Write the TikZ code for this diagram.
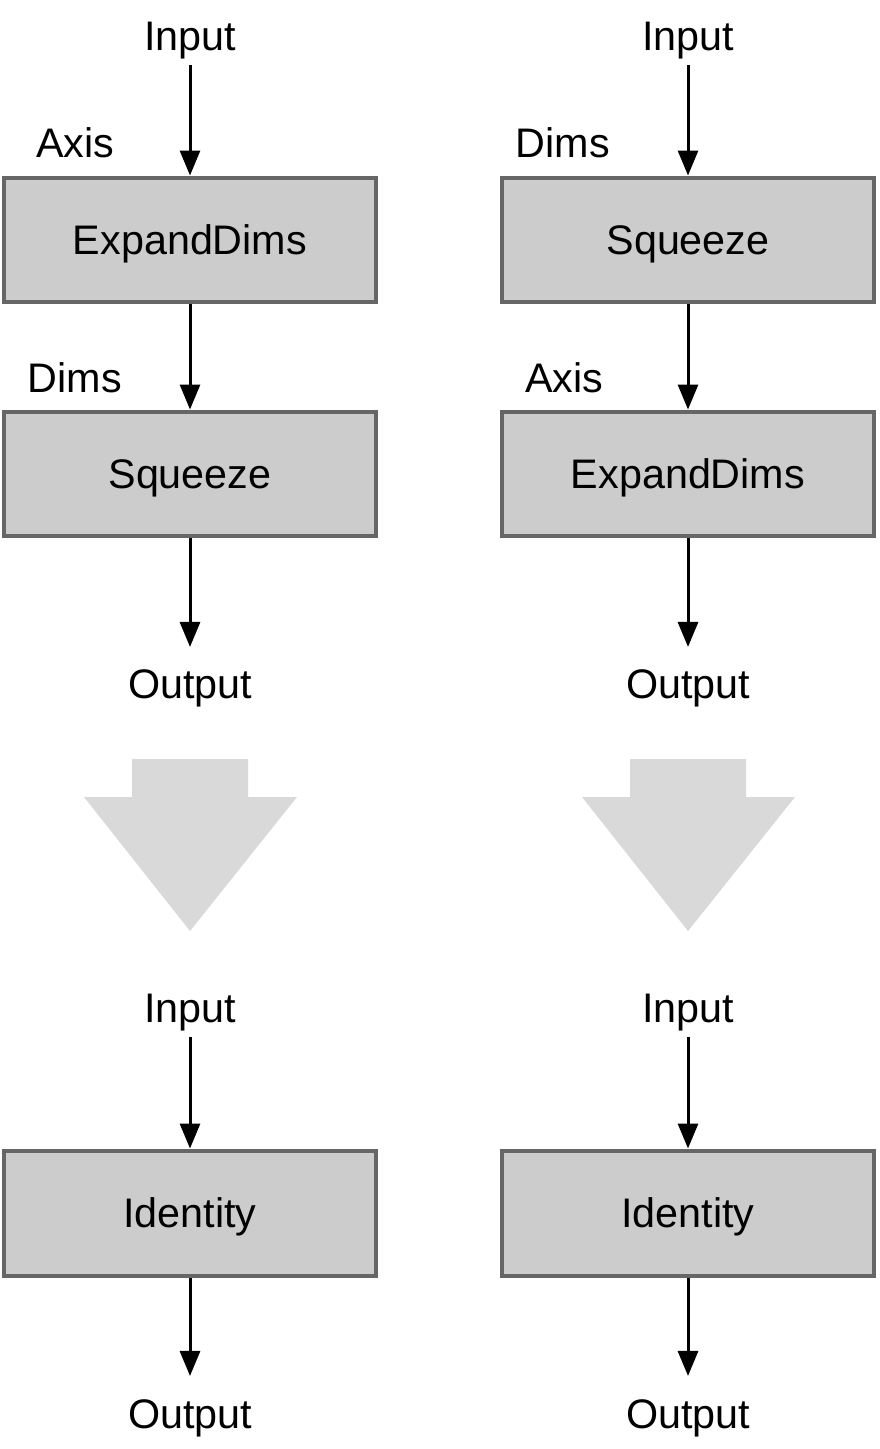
\documentclass[tikz,border=0pt]{standalone}
\usepackage{fontspec}
\setmainfont{Liberation Sans}
\usetikzlibrary{arrows.meta}
\definecolor{boxfill}{HTML}{CCCCCC}
\definecolor{boxline}{HTML}{666666}
\definecolor{bigarrow}{HTML}{D9D9D9}
\tikzset{opbox/.style={draw=boxline,line width=0.08cm,fill=boxfill,minimum width=7.44cm,minimum height=2.5cm,text height=17pt,text depth=0pt,font=\fontsize{23.5}{26}\selectfont},
         lbl/.style={font=\fontsize{23.5}{26}\selectfont,inner sep=0.1cm},
         flow/.style={line width=0.06cm,-{Triangle[width=0.4cm,length=0.5cm]}}}

\begin{document}
\begin{tikzpicture}[x=0.02cm,y=-0.02cm]
                  \useasboundingbox (0,0) rectangle (879,1449);
                  % left: ExpandDims then Squeeze
                  \node[lbl] (inA) at (190,41) {Input};
                  \node[lbl] (axA) at (75,143) {Axis};
                  \node[opbox] (expA) at (190,240) {ExpandDims};
                  \node[lbl] (dimA) at (75,378) {Dims};
                  \node[opbox] (sqA) at (190,474) {Squeeze};
                  \node[lbl] (outA) at (190,688) {Output};
                  \draw[flow] (inA) -- (expA);
                  \draw[flow] (expA) -- (sqA);
                  \draw[flow,shorten >=0.34cm] (sqA) -- (outA);
                  % right: Squeeze then ExpandDims
                  \node[lbl] (inB) at (688,41) {Input};
                  \node[lbl] (dimB) at (563,143) {Dims};
                  \node[opbox] (sqB) at (688,240) {Squeeze};
                  \node[lbl] (axB) at (564,378) {Axis};
                  \node[opbox] (expB) at (688,474) {ExpandDims};
                  \node[lbl] (outB) at (688,688) {Output};
                  \draw[flow] (inB) -- (sqB);
                  \draw[flow] (sqB) -- (expB);
                  \draw[flow,shorten >=0.34cm] (expB) -- (outB);
                  % big arrows
                  \fill[bigarrow] (132,759) -- (248,759) -- (248,797) -- (297,797) -- (190,931) -- (84,797) -- (132,797) -- cycle;
                  \fill[bigarrow] (630,759) -- (746,759) -- (746,797) -- (795,797) -- (688,931) -- (582,797) -- (630,797) -- cycle;
                  % identity
                  \node[lbl] (inC) at (190,1013) {Input};
                  \node[opbox] (idC) at (190,1213) {Identity};
                  \node[lbl] (outC) at (190,1418) {Output};
                  \draw[flow] (inC) -- (idC);
                  \draw[flow,shorten >=0.36cm] (idC) -- (outC);
                  \node[lbl] (inD) at (688,1013) {Input};
                  \node[opbox] (idD) at (688,1213) {Identity};
                  \node[lbl] (outD) at (688,1418) {Output};
                  \draw[flow] (inD) -- (idD);
                  \draw[flow,shorten >=0.36cm] (idD) -- (outD);
              \end{tikzpicture}
\end{document}
